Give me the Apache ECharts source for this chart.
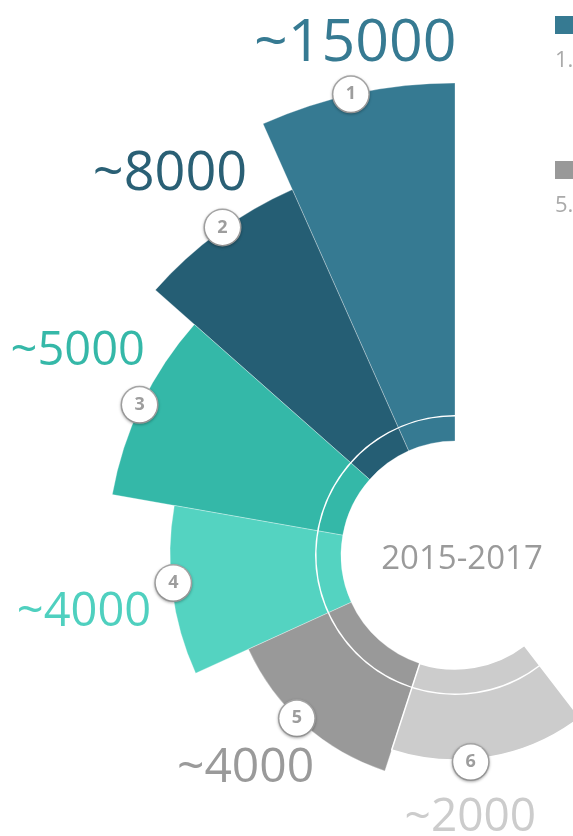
<!DOCTYPE html>
<html>
<head>
<meta charset="utf-8">
<script src="https://cdn.jsdelivr.net/npm/echarts@6/dist/echarts.min.js"></script>
<style>
  html, body { margin: 0; padding: 0; background: #fff; }
  #chart { width: 573px; height: 836px; }
</style>
</head>
<body>
<div id="chart"></div>
<script>
const categories = ['1', '2', '3', '4', '5', '6'];
const values = [15000, 8000, 5000, 4000, 4000, 2000];
// angular share of each slice, in degrees of the full circle
const spans = [24, 24.5, 31.5, 34.5, 47.5, 55.5];
const period = '2015-2017';
const legendKeys = ['1', '5'];

const colors = ['#367a92', '#255e74', '#34b8a8', '#54d3c1', '#999999', '#cccccc'];
const textColors = ['#367a92', '#2a6075', '#35b8a8', '#4fd0bf', '#9a9a9a', '#cccccc'];
const center = [455, 555];
const innerR = 114;
const outerR = [472, 400, 348, 285, 227, 205];
const valueR = [523, 477, 430, 375, 298, 262];
const valueSize = [59, 54, 47, 47, 48, 46];
const valueOffset = [[9, 1], [-3, 4], [10, -17], [1, 10], [-11, -9], [-29, 5]];
const badgeOffset = [[-6, 1], [4, -5], [-2, 1], [1, -8], [-7, -6], [-19, 5]];
const font = '"Open Sans", "Noto Sans", sans-serif';

const rest = 360 - spans.reduce((a, b) => a + b, 0);
const hidden = {color: 'transparent', borderWidth: 0};

// one ring per slice: only slice i is painted, the others keep their angle
function sliceData(i, style, withLabel) {
  const data = spans.map((s, j) => ({
    name: categories[j],
    value: s,
    itemStyle: j === i ? style : hidden,
    label: {show: withLabel && j === i}
  }));
  data.push({name: '', value: rest, itemStyle: hidden, label: {show: false}});
  return data;
}

const base = {
  type: 'pie',
  center: center,
  startAngle: 90,
  clockwise: false,
  silent: true,
  animation: false,
  avoidLabelOverlap: false,
  labelLine: {show: false},
  emphasis: {disabled: true}
};

const series = [];

categories.forEach((c, i) => {
  series.push(Object.assign({}, base, {
    radius: [innerR, outerR[i]],
    z: 2,
    label: {show: false},
    data: sliceData(i, {
      color: colors[i],
      borderColor: i === 5 ? '#ffffff' : 'rgba(255,255,255,0.3)',
      borderWidth: i === 5 ? 1.5 : 1
    }, false)
  }));
});

// thin white ring across the slices
series.push(Object.assign({}, base, {
  radius: [138.5, 140],
  z: 3,
  label: {show: false},
  data: [
    {value: 360 - rest, itemStyle: {color: '#ffffff', borderWidth: 0}},
    {value: rest, itemStyle: hidden}
  ]
}));

// numbered badges on the outer edge
categories.forEach((c, i) => {
  const r = outerR[i] - 3;
  series.push(Object.assign({}, base, {
    radius: [r, r],
    z: 5,
    label: {
      position: 'inside',
      offset: badgeOffset[i],
      formatter: '{n|{b}}',
      rich: {
        n: {
          width: 35,
          height: 35,
          lineHeight: 35,
          align: 'center',
          backgroundColor: '#ffffff',
          borderColor: '#a9a9a9',
          borderWidth: 1.5,
          borderRadius: 19,
          shadowColor: 'rgba(0,0,0,0.25)',
          shadowBlur: 3,
          shadowOffsetY: 1,
          color: '#9d9d9d',
          fontWeight: 'bold',
          fontSize: 18,
          fontFamily: font
        }
      }
    },
    data: sliceData(i, hidden, true)
  }));
});

// value captions
categories.forEach((c, i) => {
  const r = valueR[i] - 3;
  series.push(Object.assign({}, base, {
    radius: [r, r],
    z: 5,
    label: {
      position: 'inside',
      offset: valueOffset[i],
      formatter: p => '~' + values[p.dataIndex],
      color: textColors[i],
      fontSize: valueSize[i],
      fontFamily: font,
      fontWeight: 'normal'
    },
    data: sliceData(i, hidden, true)
  }));
});

const graphic = [{
  type: 'text',
  x: 462,
  y: 560,
  style: {
    text: period,
    fill: '#9a9a9a',
    fontSize: 33,
    fontFamily: font,
    textAlign: 'center',
    textVerticalAlign: 'middle'
  }
}];

legendKeys.forEach((k, n) => {
  const i = categories.indexOf(k);
  graphic.push({
    type: 'rect',
    shape: {x: 555, y: 16 + n * 145, width: 18, height: 18},
    style: {fill: colors[i]}
  });
  graphic.push({
    type: 'text',
    x: 555,
    y: 61 + n * 145,
    style: {
      text: k + '.',
      fill: '#aaaaaa',
      fontSize: 22,
      fontFamily: font,
      textAlign: 'left',
      textVerticalAlign: 'middle'
    }
  });
});

const myChart = echarts.init(document.getElementById('chart'));
myChart.setOption({
  backgroundColor: '#ffffff',
  series: series,
  graphic: graphic
});
</script>
</body>
</html>
